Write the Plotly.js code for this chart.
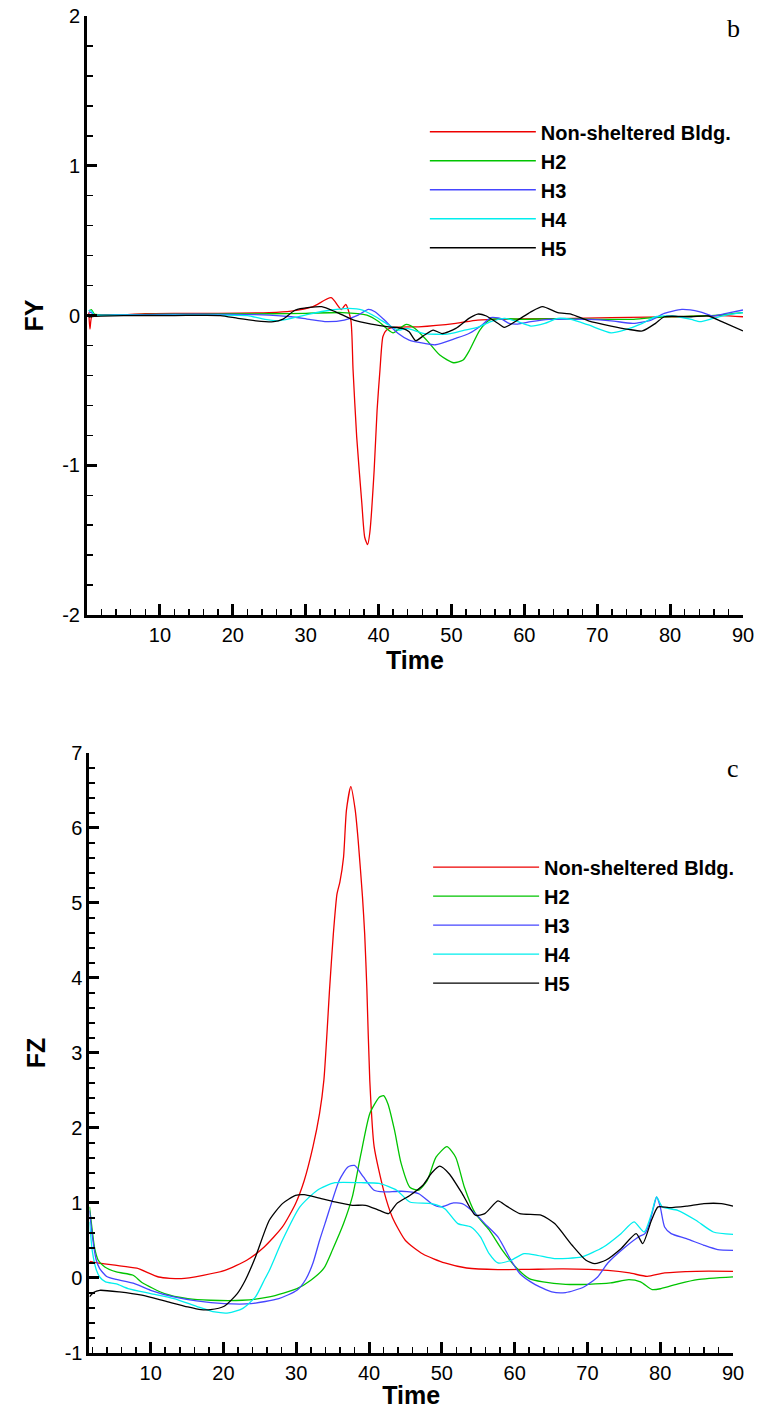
<!DOCTYPE html>
<html>
<head>
<meta charset="utf-8">
<script src="https://cdn.plot.ly/plotly-3.0.1.min.js"></script>
<style>html,body{margin:0;padding:0;background:#fff;}#chart{width:774px;height:1409px;}</style>
</head>
<body>
<div id="chart"></div>
<script>
// ---------- series names and colours ----------
const seriesNames = ["Non-sheltered Bldg.", "H2", "H3", "H4", "H5"];
const seriesColors = ["#ee0000", "#00c400", "#4646ff", "#00eeee", "#000000"];

// ---------- FY (panel b) ----------
const fyRedT = [0.25,0.4,0.7,2,5,8,12,18,25,28,31,33.5,34.9,35.5,36.2,36.5,37.0,37.7,38.1,38.5,38.8,39.4,39.8,40.2,40.6,41.1,42.0,45.5,50.6,53.6,59.7,65,71.9,77,81,84,87,90];
const fyRed  = [0.02,-0.09,0.0,0.005,0.005,0.012,0.014,0.015,0.02,0.03,0.06,0.119,0.04,0.075,-0.03,-0.36,-0.81,-1.25,-1.48,-1.53,-1.45,-1.03,-0.63,-0.36,-0.14,-0.097,-0.079,-0.075,-0.052,-0.03,-0.023,-0.02,-0.014,-0.01,-0.008,-0.003,0.0,-0.008];

const fyH2T = [0.25,0.6,1.0,2,8,15,25,30,35,38.4,40,41.1,42.0,42.9,43.8,45.0,46.6,48.4,50.3,51.6,52.5,53.9,55.4,60,65,70,75,79.2,84,87,90];
const fyH2  = [0.03,0.04,0.01,0.005,0.008,0.01,0.012,0.015,0.02,0.003,-0.04,-0.086,-0.115,-0.086,-0.059,-0.086,-0.164,-0.264,-0.315,-0.297,-0.23,-0.097,-0.026,-0.025,-0.02,-0.025,-0.025,-0.008,-0.003,0.005,0.019];

const fyH3T = [0.25,0.6,1,5,15,25,28,30.5,32.9,35.3,37.2,38.6,39.5,40.8,42.7,44.2,46.3,47.8,50.6,52.4,54.2,55.4,56.7,57.9,59.1,60.9,63.4,68.9,71.9,74.9,77.4,79.2,81.6,84.1,85.9,87.7,90];
const fyH3  = [0.025,0.02,0.005,0.005,0.01,0.003,-0.008,-0.026,-0.041,-0.03,0.003,0.041,0.025,-0.03,-0.12,-0.164,-0.186,-0.195,-0.152,-0.12,-0.063,-0.014,-0.019,-0.052,-0.057,-0.041,-0.026,-0.026,-0.035,-0.052,-0.03,0.014,0.041,0.025,-0.003,0.014,0.037];

const fyH4T = [0.25,0.6,1,5,15,22,24.4,26.2,28,30.5,33.5,35.9,37.8,39.6,41.4,42.7,43.9,46.3,49.4,51.8,53.6,55.4,57.3,59.1,60.9,62.8,64.6,66.4,68.8,71.9,73.7,76.2,78,80.4,82.9,84.1,85.9,87.7,90];
const fyH4  = [0.037,0.03,0.005,0.003,0.003,0.0,-0.026,-0.035,-0.019,0.01,0.037,0.048,0.037,-0.008,-0.063,-0.097,-0.086,-0.12,-0.124,-0.097,-0.079,-0.041,-0.019,-0.041,-0.07,-0.052,-0.019,-0.026,-0.063,-0.115,-0.097,-0.052,-0.008,-0.003,-0.026,-0.041,-0.019,0.003,0.019];

const fyH5T = [0.25,1,5,12,18.3,20.7,23.2,25.6,26.8,28.6,30.5,32.2,34.1,36.6,39,41.4,43.3,44.2,45.1,46.3,47.5,48.7,50.6,52.4,53.6,54.8,56.7,57.3,59.1,60.9,62.5,64.6,66.4,68.8,71.9,74.3,76.2,78,79.2,82.9,85.3,87.1,90];
const fyH5  = [-0.01,-0.005,0.0,0.0,0.0,-0.019,-0.035,-0.041,-0.026,0.037,0.054,0.059,0.025,-0.03,-0.057,-0.075,-0.086,-0.108,-0.168,-0.13,-0.097,-0.12,-0.086,-0.019,0.01,-0.003,-0.063,-0.079,-0.03,0.025,0.059,0.019,0.01,-0.035,-0.07,-0.092,-0.103,-0.052,-0.008,-0.008,-0.003,-0.041,-0.103];

// ---------- FZ (panel c) ----------
const fzRedT = [1.6,2.7,5.1,8.1,11.1,14.2,17.2,20.2,23.2,25.6,28.1,29.9,31.1,32.3,33.2,33.8,34.6,35.1,35.6,36.0,36.5,36.9,37.5,38.1,38.5,39.1,39.4,39.7,40.1,40.7,42.0,43.2,45.0,47.4,50.4,53.4,57.7,62,66.7,72.8,75.8,78.2,80.6,84.9,90];
const fzRed  = [0.22,0.2,0.17,0.13,0.013,-0.009,0.036,0.1,0.236,0.413,0.68,0.99,1.3,1.75,2.19,2.64,3.88,4.59,5.12,5.28,5.61,6.24,6.55,6.24,5.84,5.08,4.59,3.86,2.64,1.75,1.17,0.81,0.50,0.32,0.2,0.133,0.111,0.115,0.12,0.1,0.067,0.022,0.067,0.089,0.089];

const fzH2T = [1.6,1.9,2.3,2.8,3.7,5.3,7.6,8.8,11.9,15.1,18.2,22.6,26.3,30.1,32.0,33.8,35.0,36.5,37.7,38.9,40.1,41.4,42.0,42.6,43.5,44.4,45.6,46.8,48.0,49.2,50.7,51.9,53.1,54.6,56.5,58.3,60.1,62.0,63.9,67.0,70.1,73.2,75.7,77.3,78.9,80.1,82.6,85.1,90];
const fzH2  = [0.95,0.7,0.4,0.236,0.147,0.08,0.036,-0.06,-0.208,-0.275,-0.297,-0.297,-0.253,-0.142,-0.03,0.13,0.38,0.725,1.08,1.66,2.19,2.41,2.43,2.32,1.97,1.53,1.21,1.17,1.3,1.61,1.75,1.61,1.21,0.86,0.64,0.37,0.15,-0.008,-0.052,-0.084,-0.084,-0.066,-0.022,-0.052,-0.155,-0.142,-0.075,-0.022,0.014];

const fzH3T = [1.6,2.0,2.5,3.0,3.96,5.3,7.6,10.0,13.2,16.3,20.1,23.8,27.6,30.1,31.3,32.3,33.2,34.1,35.9,37.1,38.0,39.2,40.7,42.0,44.4,46.8,48.6,49.8,51.6,52.8,54.6,55.9,57.7,59.5,60.7,62.6,65.1,67.0,69.5,71.4,72.8,75.2,77.0,77.9,78.5,79.1,79.5,80.0,80.6,81.5,83.6,86.0,87.9,90];
const fzH3  = [0.9,0.55,0.25,0.125,0.02,-0.02,-0.07,-0.164,-0.253,-0.306,-0.342,-0.342,-0.275,-0.164,-0.02,0.2,0.5,0.77,1.3,1.48,1.5,1.35,1.17,1.147,1.156,1.125,0.99,0.947,1.0,0.99,0.858,0.725,0.547,0.236,0.06,-0.075,-0.186,-0.195,-0.12,0.014,0.2,0.413,0.547,0.591,0.725,0.947,1.08,0.947,0.68,0.591,0.524,0.436,0.378,0.369];

const fzH4T = [1.6,2.0,2.5,3.0,3.8,5.3,6.9,10.0,13.2,16.3,18.8,20.7,22.6,24.4,25.6,26.3,28.1,30.5,32.9,35.3,38.9,41.4,43.8,45.6,48.6,50.4,52.2,54.0,55.3,56.5,57.7,59.5,61.3,63.1,65.5,69.2,72.2,74.6,76.4,77.8,78.8,79.5,80.3,82.4,84.9,87.3,90];
const fzH4  = [0.75,0.35,0.12,0.013,-0.052,-0.08,-0.142,-0.208,-0.275,-0.377,-0.453,-0.466,-0.408,-0.253,-0.03,0.1,0.502,0.947,1.17,1.27,1.27,1.26,1.17,1.013,0.991,0.924,0.725,0.68,0.547,0.324,0.2,0.236,0.324,0.302,0.258,0.28,0.413,0.591,0.747,0.613,0.858,1.08,0.947,0.902,0.769,0.613,0.58];

const fzH5T = [1.6,2.2,3.0,5.7,8.8,11.9,15.1,16.9,18.2,20.1,21.9,23.0,24.4,26.3,28.1,29.9,31.1,32.9,35.3,37.7,39.5,41.4,42.7,43.8,45.6,47.4,48.6,49.7,51.0,52.8,54.6,55.9,57.7,58.9,60.7,63.7,65.5,67.9,69.8,71.0,72.5,74.6,76.7,77.6,78.8,79.7,81.2,83.6,86.0,88.4,90];
const fzH5  = [-0.25,-0.19,-0.164,-0.186,-0.23,-0.306,-0.386,-0.422,-0.422,-0.377,-0.208,-0.03,0.28,0.769,0.991,1.1,1.11,1.07,1.013,0.969,0.969,0.902,0.858,0.991,1.1,1.236,1.4,1.49,1.39,1.125,0.836,0.858,1.027,0.958,0.858,0.836,0.725,0.436,0.236,0.191,0.236,0.391,0.591,0.458,0.769,0.947,0.938,0.958,0.991,0.991,0.958];

// ---------- axis ticks ----------
const timeTicks = [10,20,30,40,50,60,70,80,90];
const fyTicks = [-2,-1,0,1,2];
const fzTicks = [-1,0,1,2,3,4,5,6,7];

const fyData = [[fyRedT,fyRed],[fyH2T,fyH2],[fyH3T,fyH3],[fyH4T,fyH4],[fyH5T,fyH5]];
const fzData = [[fzRedT,fzRed],[fzH2T,fzH2],[fzH3T,fzH3],[fzH4T,fzH4],[fzH5T,fzH5]];

const traces = [];
fyData.forEach((d,i) => traces.push({
  type:'scatter', mode:'lines', x:d[0], y:d[1], name:seriesNames[i],
  line:{color:seriesColors[i], width:1.3, shape:'spline', smoothing:0.6},
  xaxis:'x', yaxis:'y', legend:'legend', hoverinfo:'skip'
}));
fzData.forEach((d,i) => traces.push({
  type:'scatter', mode:'lines', x:d[0], y:d[1], name:seriesNames[i],
  line:{color:seriesColors[i], width:1.3, shape:'spline', smoothing:0.6},
  xaxis:'x2', yaxis:'y2', legend:'legend2', hoverinfo:'skip'
}));

const tickFont = {family:'Liberation Sans, Arial, sans-serif', size:20, color:'#000'};
const titleFont = {family:'Liberation Sans, Arial, sans-serif', size:25, color:'#000', weight:'bold'};
const legFont = {family:'Liberation Sans, Arial, sans-serif', size:20, color:'#000', weight:'bold'};

function xAxis(range, domain, anchor) {
  return {
    range:range, domain:domain, anchor:anchor, tickvals:timeTicks, ticktext:timeTicks.map(String),
    showline:true, linecolor:'#000', linewidth:3, ticks:'inside', ticklen:11, tickwidth:3, tickcolor:'#000',
    minor:{dtick:2, tick0:0, ticks:'inside', ticklen:6, tickwidth:1.5, tickcolor:'#000', showgrid:false},
    showgrid:false, zeroline:false, tickfont:tickFont, mirror:false,
    title:{text:'Time', font:titleFont, standoff:4}
  };
}
function yAxis(range, domain, anchor, ticks, title) {
  return {
    range:range, domain:domain, anchor:anchor, tickvals:ticks, ticktext:ticks.map(String),
    showline:true, linecolor:'#000', linewidth:3, ticks:'inside', ticklen:10, tickwidth:3, tickcolor:'#000',
    minor:{dtick:0.2, tick0:0, ticks:'inside', ticklen:6, tickwidth:1.5, tickcolor:'#000', showgrid:false},
    showgrid:false, zeroline:false, tickfont:tickFont, mirror:false,
    title:{text:title, font:titleFont, standoff:12}
  };
}

const layout = {
  width:774, height:1409,
  margin:{l:87, r:31, t:16, b:56, pad:0},
  paper_bgcolor:'#fff', plot_bgcolor:'#fff',
  showlegend:true,
  xaxis: xAxis([0,90],[0,1],'y'),
  yaxis: yAxis([-2,2],[0.5519,1],'x', fyTicks, 'FY'),
  xaxis2: xAxis([1.6,90],[0.0038,0.9848],'y2'),
  yaxis2: yAxis([-1,7],[0,0.4489],'x2', fzTicks, 'FZ'),
  legend:{x:0.515, y:0.928, xanchor:'left', yanchor:'top', bgcolor:'rgba(0,0,0,0)', borderwidth:0,
          font:legFont, itemwidth:106, traceorder:'normal'},
  legend2:{x:0.52, y:0.378, xanchor:'left', yanchor:'top', bgcolor:'rgba(0,0,0,0)', borderwidth:0,
           font:legFont, itemwidth:106, traceorder:'normal'},
  annotations:[
    {text:'b', xref:'paper', yref:'paper', x:0.9848, y:0.991, xanchor:'center', yanchor:'middle', showarrow:false,
     font:{family:'Liberation Serif, Times New Roman, serif', size:26, color:'#000'}},
    {text:'c', xref:'paper', yref:'paper', x:0.9848, y:0.4374, xanchor:'center', yanchor:'middle', showarrow:false,
     font:{family:'Liberation Serif, Times New Roman, serif', size:26, color:'#000'}}
  ]
};

Plotly.newPlot('chart', traces, layout, {staticPlot:true, displayModeBar:false});
</script>
</body>
</html>
